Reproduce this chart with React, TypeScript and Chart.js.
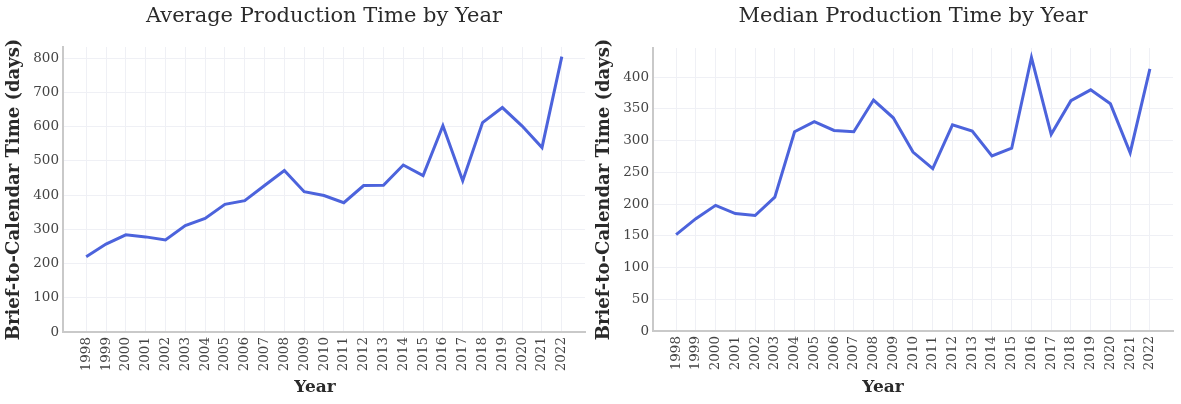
import React, { useEffect, useRef } from "react";
import { Chart, registerables } from "chart.js";

Chart.register(...registerables);

const years = [
  "1998", "1999", "2000", "2001", "2002", "2003", "2004", "2005", "2006",
  "2007", "2008", "2009", "2010", "2011", "2012", "2013", "2014", "2015",
  "2016", "2017", "2018", "2019", "2020", "2021", "2022",
];
const averageDays = [
  220, 257, 284, 278, 269, 311, 332, 373, 384, 428, 472, 410, 399, 378, 428,
  429, 488, 457, 603, 442, 612, 656, 602, 539, 805,
];
const medianDays = [
  152, 177, 198, 185, 182, 211, 314, 330, 316, 314, 364, 336, 282, 256, 325,
  315, 276, 288, 431, 310, 363, 380, 358, 281, 413,
];

const FONT = "'DejaVu Serif', serif";
const LINE_COLOR = "#4c63dc";
const GRID_COLOR = "#eff0f5";
const AXIS_COLOR = "#c9c9c9";
const TICK_COLOR = "#444444";
const TEXT_COLOR = "#2a2a2a";

type Cfg = {
  title: string;
  values: number[];
  yMax: number;
  yStep: number;
  padRight: number;
  padTop: number;
  xHeight: number;
  yearShift: number;
};

function LineChart({ cfg, width, height }: { cfg: Cfg; width: number; height: number }) {
  const ref = useRef<HTMLCanvasElement | null>(null);
  useEffect(() => {
    if (!ref.current) return;
    const texts = {
      id: "texts",
      afterDraw(chart: any) {
        const { ctx, chartArea } = chart;
        const mid = (chartArea.left + chartArea.right) / 2;
        ctx.save();
        ctx.fillStyle = TEXT_COLOR;
        ctx.textAlign = "center";
        ctx.textBaseline = "middle";
        ctx.font = `normal 21px ${FONT}`;
        ctx.fillText(cfg.title, mid, 17);
        ctx.font = `bold 17px ${FONT}`;
        ctx.fillText("Year", mid + cfg.yearShift, 388);
        ctx.restore();
      },
    };
    const chart = new Chart(ref.current, {
      type: "line",
      data: {
        datasets: [
          {
            data: cfg.values.map((v, i) => ({ x: i, y: v })),
            borderColor: LINE_COLOR,
            backgroundColor: LINE_COLOR,
            borderWidth: 3,
            pointRadius: 0,
            tension: 0,
            fill: false,
          },
        ],
      },
      options: {
        animation: false,
        responsive: false,
        layout: { padding: { left: 0, right: cfg.padRight, top: cfg.padTop, bottom: 0 } },
        plugins: {
          legend: { display: false },
          tooltip: { enabled: false },
          title: { display: false },
        },
        scales: {
          x: {
            type: "linear",
            min: -1.17,
            max: 25.17,
            afterBuildTicks: (scale: any) => {
              scale.ticks = years.map((_, i) => ({ value: i }));
            },
            afterFit: (scale: any) => {
              scale.height = cfg.xHeight;
            },
            grid: { color: GRID_COLOR, drawTicks: false },
            border: { display: true, color: AXIS_COLOR, width: 2 },
            ticks: {
              autoSkip: false,
              minRotation: 90,
              maxRotation: 90,
              padding: 5,
              color: TICK_COLOR,
              font: { family: FONT, size: 13.5 },
              callback: (v: any) => years[v as number] ?? "",
            },
          },
          y: {
            type: "linear",
            min: 0,
            max: cfg.yMax,
            afterFit: (scale: any) => {
              scale.width = 63;
            },
            grid: { color: GRID_COLOR, drawTicks: false },
            border: { display: true, color: AXIS_COLOR, width: 2 },
            ticks: {
              stepSize: cfg.yStep,
              includeBounds: false,
              padding: 4,
              color: TICK_COLOR,
              font: { family: FONT, size: 13.5 },
            },
            title: {
              display: true,
              text: "Brief-to-Calendar Time (days)",
              color: TEXT_COLOR,
              font: { family: FONT, size: 18, weight: "bold" },
              padding: { top: 4, bottom: 0 },
            },
          },
        },
      },
      plugins: [texts],
    } as any);
    return () => chart.destroy();
  }, [cfg]);
  return <canvas ref={ref} width={width} height={height} style={{ display: "block", width, height }} />;
}

const leftCfg: Cfg = {
  title: "Average Production Time by Year",
  values: averageDays,
  yMax: 833,
  yStep: 100,
  padRight: 5,
  padTop: 47,
  xHeight: 72,
  yearShift: -9,
};
const rightCfg: Cfg = {
  title: "Median Production Time by Year",
  values: medianDays,
  yMax: 446,
  yStep: 50,
  padRight: 8,
  padTop: 48,
  xHeight: 73,
  yearShift: -30,
};

export default function App() {
  return (
    <div style={{ position: "absolute", left: 0, top: 0, width: 1181, height: 404, background: "#fff" }}>
      <div style={{ position: "absolute", left: 0, top: 0 }}>
        <LineChart cfg={leftCfg} width={590} height={404} />
      </div>
      <div style={{ position: "absolute", left: 590, top: 0 }}>
        <LineChart cfg={rightCfg} width={591} height={404} />
      </div>
    </div>
  );
}
